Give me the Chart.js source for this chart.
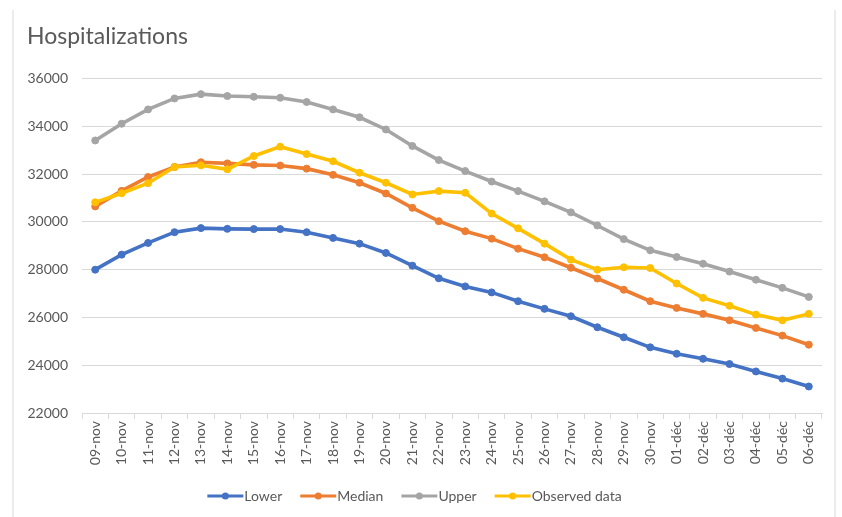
<!DOCTYPE html>
<html>
<head>
<meta charset="utf-8">
<script src="https://cdn.jsdelivr.net/npm/chart.js@4.4.1/dist/chart.umd.min.js"></script>
<style>
  html, body { margin: 0; padding: 0; background: #ffffff; }
  #wrap { width: 842px; height: 517px; position: relative; }
</style>
</head>
<body>
<div id="wrap"><canvas id="chart" width="842" height="517"></canvas></div>
<script>
// Daily dates on the category axis
const categories = [
  '09-nov', '10-nov', '11-nov', '12-nov', '13-nov', '14-nov', '15-nov',
  '16-nov', '17-nov', '18-nov', '19-nov', '20-nov', '21-nov', '22-nov',
  '23-nov', '24-nov', '25-nov', '26-nov', '27-nov', '28-nov', '29-nov',
  '30-nov', '01-déc', '02-déc', '03-déc', '04-déc', '05-déc', '06-déc'
];

// Projection band: lower bound, median and upper bound
const lower = [
  28000, 28630, 29120, 29570, 29740, 29710, 29700, 29700, 29570, 29330,
  29090, 28700, 28170, 27640, 27300, 27050, 26680, 26360, 26050, 25590,
  25170, 24750, 24480, 24270, 24050, 23740, 23440, 23110
];
const median = [
  30650, 31300, 31880, 32300, 32500, 32450, 32390, 32360, 32230, 31970,
  31640, 31190, 30590, 30030, 29610, 29300, 28880, 28520, 28080, 27630,
  27160, 26680, 26400, 26150, 25880, 25560, 25240, 24860
];
const upper = [
  33410, 34110, 34710, 35170, 35350, 35270, 35240, 35200, 35020, 34710,
  34380, 33870, 33180, 32590, 32130, 31690, 31290, 30860, 30400, 29850,
  29280, 28810, 28530, 28250, 27920, 27580, 27240, 26860
];

// Reported hospitalizations
const observed = [
  30820, 31200, 31620, 32300, 32370, 32200, 32760, 33150, 32840, 32540,
  32060, 31640, 31150, 31290, 31220, 30350, 29730, 29090, 28420, 28000,
  28100, 28070, 27420, 26820, 26490, 26120, 25880, 26150
];

// Value axis range
const yMin = 22000;
const yMax = 36000;
const yStep = 2000;

const textColor = '#595959';
const gridColor = '#d9d9d9';
const fontFamily = 'Lato, "Open Sans", "DejaVu Sans", sans-serif';

function series(label, data, color, order) {
  return {
    label: label,
    data: data,
    borderColor: color,
    backgroundColor: color,
    pointBackgroundColor: color,
    pointBorderColor: color,
    borderWidth: 3.6,
    pointRadius: 3.5,
    pointBorderWidth: 1,
    tension: 0,
    fill: false,
    order: order
  };
}

// White page, faint frame edges
const frame = {
  id: 'frame',
  beforeDraw(chart) {
    const ctx = chart.ctx;
    ctx.save();
    ctx.fillStyle = '#ffffff';
    ctx.fillRect(0, 0, chart.width, chart.height);
    ctx.strokeStyle = '#ececec';
    ctx.lineWidth = 2;
    ctx.beginPath();
    ctx.moveTo(13, 10); ctx.lineTo(13, chart.height);
    ctx.moveTo(835, 10); ctx.lineTo(835, chart.height);
    ctx.stroke();
    ctx.restore();
  }
};

// Nudge the legend row a little to the left of the plot centre
// (the legend plugin recomputes its hit boxes from these edges afterwards)
const legendShift = {
  id: 'legendShift',
  afterLayout(chart) {
    const lg = chart.legend;
    if (!lg) return;
    lg.left -= 10;
    lg.right -= 10;
  }
};

// Legend keys drawn as a short line with a marker in the middle
const keyLength = 36;
const legendKeys = {
  id: 'legendKeys',
  afterDraw(chart) {
    const legend = chart.legend;
    if (!legend || !legend.legendHitBoxes) return;
    const ctx = chart.ctx;
    legend.legendItems.forEach((item, i) => {
      const hb = legend.legendHitBoxes[i];
      if (!hb) return;
      const ds = chart.data.datasets[item.datasetIndex];
      const cy = hb.top + hb.height / 2;
      ctx.save();
      ctx.strokeStyle = ds.borderColor;
      ctx.lineWidth = 3.2;
      ctx.beginPath();
      ctx.moveTo(hb.left, cy);
      ctx.lineTo(hb.left + keyLength, cy);
      ctx.stroke();
      ctx.fillStyle = ds.borderColor;
      ctx.beginPath();
      ctx.arc(hb.left + keyLength / 2, cy, 3.5, 0, Math.PI * 2);
      ctx.fill();
      ctx.restore();
    });
  }
};

new Chart(document.getElementById('chart'), {
  type: 'line',
  data: {
    labels: categories,
    datasets: [
      series('Lower', lower, '#4472c4', 3),
      series('Median', median, '#ed7d31', 2),
      series('Upper', upper, '#a5a5a5', 1),
      series('Observed data', observed, '#ffc000', 0)
    ]
  },
  options: {
    responsive: false,
    animation: false,
    devicePixelRatio: 1,
    layout: { padding: { left: 27, right: 20, top: 12, bottom: 4 } },
    plugins: {
      title: {
        display: true,
        text: 'Hospitalizations',
        align: 'start',
        color: textColor,
        font: { family: fontFamily, size: 23, weight: 'normal' },
        padding: { top: 11, bottom: 28 }
      },
      legend: {
        position: 'bottom',
        labels: {
          color: textColor,
          font: { family: fontFamily, size: 14 },
          boxWidth: 30,
          boxHeight: 3,
          padding: 18,
          sort: (a, b) => a.datasetIndex - b.datasetIndex,
          generateLabels(chart) {
            const items = Chart.defaults.plugins.legend.labels.generateLabels(chart);
            items.forEach(it => {
              it.fillStyle = 'rgba(0,0,0,0)';
              it.strokeStyle = 'rgba(0,0,0,0)';
              it.lineWidth = 0;
            });
            return items;
          }
        }
      },
      tooltip: { enabled: false }
    },
    scales: {
      x: {
        offset: true,
        grid: {
          offset: true,
          drawOnChartArea: false,
          drawTicks: true,
          tickLength: 6,
          color: gridColor
        },
        border: { display: true, color: gridColor, width: 1 },
        ticks: {
          color: textColor,
          font: { family: fontFamily, size: 14 },
          maxRotation: 90,
          minRotation: 90,
          autoSkip: false,
          padding: 2
        },
        afterFit(scale) { scale.height = 58; }
      },
      y: {
        min: yMin,
        max: yMax,
        grid: { color: gridColor, drawTicks: false, lineWidth: 1 },
        border: { display: false },
        ticks: {
          stepSize: yStep,
          color: textColor,
          font: { family: fontFamily, size: 14 },
          padding: 14,
          callback: v => String(v)
        },
        afterFit(scale) { scale.width = 55; }
      }
    }
  },
  plugins: [frame, legendShift, legendKeys]
});
</script>
</body>
</html>
